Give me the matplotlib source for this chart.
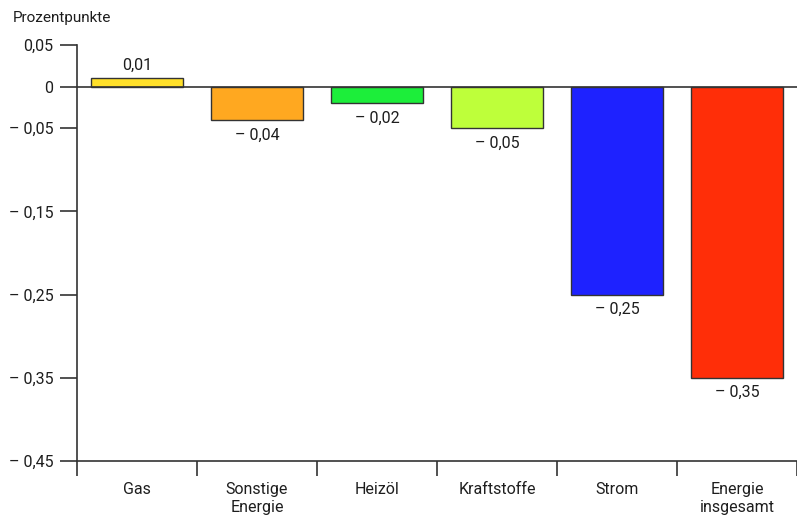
import numpy as np
import matplotlib.pyplot as plt

# =============================================================
# DATA
# =============================================================
categories = ['Gas', 'Sonstige\nEnergie', 'Heizöl', 'Kraftstoffe', 'Strom', 'Energie\ninsgesamt']
values     = [0.01, -0.04, -0.02, -0.05, -0.25, -0.35]
colors     = ['#FFE02A', '#FFA820', '#1CEE3A', '#BEFF3A', '#1E22FF', '#FF2E08']
ytick_vals = [0.05, 0, -0.05, -0.15, -0.25, -0.35, -0.45]


def fmt(v):
    if v == 0:
        return '0'
    s = f'{abs(v):.2f}'.replace('.', ',')
    return s if v > 0 else '\u2013 ' + s


plt.rcParams['font.family'] = ['Roboto', 'DejaVu Sans']
FS = 11.5
TXT = '#1e1e1e'

fig = plt.figure(figsize=(7.97, 5.17), dpi=100)
ax = fig.add_axes([77 / 797, 56 / 517, 720 / 797, 416 / 517])

x = np.arange(len(categories))
ax.bar(x, values, width=0.76, color=colors, edgecolor='#333333', linewidth=1.0, zorder=3)

ax.axhline(0, color='#333333', linewidth=1.2, zorder=4)

for xi, v in zip(x, values):
    if v >= 0:
        ax.text(xi, v + 0.007, fmt(v), ha='center', va='bottom', fontsize=FS, color=TXT)
    else:
        ax.text(xi, v - 0.009, fmt(v), ha='center', va='top', fontsize=FS, color=TXT)

ax.set_xlim(-0.5, len(categories) - 0.5)
ax.set_ylim(-0.45, 0.05)

ax.set_yticks(ytick_vals)
ax.set_yticklabels([fmt(v) for v in ytick_vals], fontsize=FS, color=TXT)
ax.tick_params(axis='y', direction='out', length=12, width=1.2, color='#333333', pad=5)

# category separators as ticks, labels in the middle
ax.set_xticks(np.arange(len(categories) + 1) - 0.5)
ax.set_xticklabels([])
ax.set_xticks(x, minor=True)
ax.set_xticklabels(categories, minor=True, fontsize=FS, color=TXT, linespacing=1.25)
ax.tick_params(axis='x', which='major', direction='out', length=11, width=1.2, color='#333333')
ax.tick_params(axis='x', which='minor', length=0, pad=15)

for side in ['top', 'right']:
    ax.spines[side].set_visible(False)
for side in ['left', 'bottom']:
    ax.spines[side].set_color('#333333')
    ax.spines[side].set_linewidth(1.2)

fig.text(13 / 797, 1 - 18 / 517, 'Prozentpunkte', fontsize=11, color=TXT, va='center')

fig.savefig('out.png', dpi=100)
